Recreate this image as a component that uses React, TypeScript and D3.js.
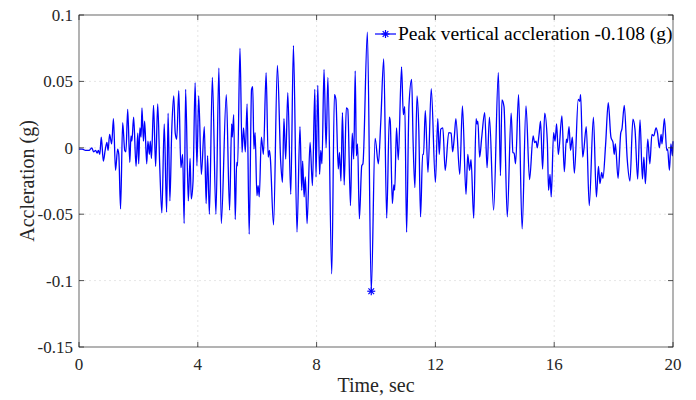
import React from "react";
import * as d3 from "d3";

const xTicks = [0, 4, 8, 12, 16, 20];
const yTicks = [-0.15, -0.1, -0.05, 0, 0.05, 0.1];
const yTickLabels = ["-0.15", "-0.1", "-0.05", "0", "0.05", "0.1"];

const timeSec = [
  0, 0.11, 0.22, 0.34, 0.43, 0.49, 0.56, 0.61, 0.65, 0.7,
  0.75, 0.82, 0.88, 0.94, 0.98, 1.03, 1.1, 1.16, 1.23, 1.3,
  1.34, 1.4, 1.47, 1.54, 1.58, 1.64, 1.71, 1.75, 1.78, 1.84,
  1.92, 1.98, 2.01, 2.05, 2.09, 2.12, 2.17, 2.21, 2.28, 2.32,
  2.37, 2.4, 2.44, 2.51, 2.58, 2.65, 2.72, 2.79, 2.87,
  2.95, 3.0, 3.06, 3.12, 3.19, 3.24, 3.29, 3.36, 3.43, 3.49,
  3.54, 3.59, 3.68, 3.74, 3.78, 3.84, 3.91, 3.97, 4.03, 4.12,
  4.22, 4.28, 4.33, 4.39, 4.49, 4.61, 4.71, 4.79, 4.96, 5.07,
  5.14, 5.16, 5.21, 5.26, 5.31, 5.34, 5.42, 5.49, 5.54, 5.6,
  5.66, 5.73,
  5.81, 5.85, 5.89, 5.93, 5.99, 6.03, 6.07, 6.14, 6.21, 6.3,
  6.37, 6.41, 6.44, 6.55, 6.68, 6.79, 6.85, 6.9, 6.96, 7.03,
  7.13, 7.22, 7.34, 7.44, 7.5, 7.53, 7.58, 7.62, 7.68, 7.78,
  7.86, 7.94, 7.98, 8.04, 8.1, 8.14, 8.18, 8.25, 8.32, 8.38,
  8.51, 8.6,
  8.65, 8.73, 8.77, 8.82, 8.87, 8.93, 9.0, 9.05, 9.14, 9.2,
  9.25, 9.3, 9.34, 9.38, 9.44, 9.52, 9.56, 9.71, 9.84, 9.97,
  10.08, 10.16, 10.26, 10.36, 10.45, 10.48, 10.55, 10.6, 10.63, 10.69,
  10.75, 10.86, 10.92, 10.97, 11.03, 11.11, 11.2, 11.25, 11.31, 11.38,
  11.44, 11.5,
  11.57, 11.6, 11.66, 11.75, 11.86, 12.0, 12.08, 12.13, 12.18, 12.25,
  12.33, 12.45, 12.53, 12.58, 12.64, 12.69, 12.82, 12.91, 13.03, 13.09,
  13.15, 13.2, 13.29, 13.37, 13.4, 13.43, 13.49, 13.56, 13.66, 13.74,
  13.82, 13.96, 14.12, 14.19, 14.24, 14.31,
  14.42, 14.55, 14.61, 14.65, 14.7, 14.8, 14.92, 15.05, 15.17, 15.29,
  15.34, 15.39, 15.43, 15.49, 15.54, 15.61, 15.68, 15.77, 15.81, 15.86,
  15.9, 15.98, 16.03, 16.08, 16.14, 16.26, 16.34, 16.41, 16.44, 16.5,
  16.55, 16.61, 16.68, 16.81, 16.86, 16.89, 16.96, 17.0, 17.08, 17.18,
  17.32, 17.42, 17.49, 17.54, 17.6, 17.64, 17.73, 17.82, 17.91, 17.98,
  18.02, 18.06, 18.15, 18.24, 18.28, 18.36, 18.46, 18.55, 18.65, 18.72,
  18.81, 18.89, 18.97, 19.02, 19.07, 19.15, 19.22, 19.29, 19.35, 19.43,
  19.48, 19.54, 19.6, 19.63, 19.71, 19.79, 19.82, 19.88, 19.93, 19.98,
  20.0,
];

const accelG = [
  -0.001, -0.001, -0.002, -0.002, 0.0, -0.003, -0.002, -0.004, -0.002, -0.005,
  0.008, -0.01, -0.002, 0.004, -0.002, 0.01, 0.003, 0.022, -0.017, -0.001,
  -0.005, -0.046, 0.019, -0.002, -0.003, 0.029, -0.011, 0.009, 0.005, 0.023,
  -0.014, 0.011, -0.012, 0.015, 0.008, 0.03, 0.005, 0.02, -0.012, 0.005,
  -0.005, 0.005, -0.008, 0.032, -0.014, 0.033, -0.015, -0.049, 0.018,
  -0.0485, 0.026, -0.04, 0.011, 0.039, 0.011, 0.0065, 0.043, -0.015, -0.005,
  -0.057, 0.044, -0.04, -0.008, -0.0385, -0.025, 0.049, -0.0135, 0.039, -0.02,
  0.016, -0.042, -0.006, -0.05, 0.053, -0.05, 0.06, -0.057, 0.04, -0.047,
  0.018, 0.008, 0.025, -0.054, -0.011, -0.0135, 0.075, -0.0035, 0.015, -0.003,
  0.033, -0.065,
  0.044, 0.046, -0.001, 0.0115, -0.036, -0.0285, -0.037, 0.008, -0.005, 0.0565,
  -0.007, -0.002, -0.007, -0.058, 0.062, -0.01, -0.026, 0.022, -0.0085, 0.0415,
  -0.035, 0.077, -0.0635, 0.016, -0.032, -0.01, -0.037, -0.022, -0.057, 0.004,
  -0.0285, 0.044, -0.022, 0.047, -0.02, -0.002, -0.012, 0.059, 0.0, 0.053,
  -0.095, 0.04,
  0.0365, -0.016, -0.0035, -0.025, 0.0265, -0.028, 0.03, 0.029, -0.0435, 0.011,
  -0.0085, 0.058, -0.006, 0.003, -0.0535, -0.0135, -0.012, 0.087, -0.108, 0.007,
  -0.012, 0.019, 0.067, -0.053, 0.023, 0.02, -0.042, -0.028, -0.032, 0.015,
  -0.009, 0.061, 0.025, 0.031, -0.0635, 0.0315, 0.0515, 0.004, -0.03, 0.039,
  0.015, -0.052,
  -0.005, -0.005, 0.028, -0.0185, 0.0445, -0.026, 0.022, -0.005, 0.014, 0.015,
  -0.017, 0.0115, 0.011, -0.003, 0.009, 0.022, -0.02, 0.0315, -0.035, -0.005,
  -0.017, -0.009, -0.053, 0.022, 0.018, 0.02, -0.007, 0.008, 0.0265, -0.015,
  0.023, -0.047, 0.0565, -0.021, 0.036, 0.031,
  -0.052, 0.026, -0.0035, -0.004, -0.012, 0.04, -0.061, 0.0315, -0.024, 0.009,
  0.004, 0.005, 0.0, 0.01, 0.02, -0.016, 0.026, 0.004, -0.032, -0.02,
  -0.037, 0.0115, 0.005, 0.018, -0.005, 0.024, -0.018, 0.0065, 0.004, 0.016,
  -0.002, 0.008, -0.019, 0.0365, 0.035, 0.04, -0.007, -0.001, 0.016, -0.0435,
  0.023, -0.037, -0.014, -0.027, -0.0185, -0.023, 0.002, 0.034, 0.008, 0.004,
  -0.005, 0.003, -0.023, 0.011, 0.014, 0.032, -0.009, -0.025, 0.0215, 0.014,
  -0.0235, 0.021, -0.0235, -0.007, -0.027, 0.0065, -0.012, 0.01, 0.009, 0.015,
  0.011, 0.0, 0.01, 0.003, 0.022, -0.002, -0.001, -0.017, 0.003, -0.006,
  0.005,
];

const peakTime = [9.84];
const peakValue = [-0.108];
const legendLabel = "Peak vertical accleration -0.108 (g)";

const W = 696;
const H = 400;
const left = 79;
const right = 673;
const top = 15;
const bottom = 347;
const FONT = "Liberation Serif";
const AX = "#262626";

function Star({ cx, cy, r }: { cx: number; cy: number; r: number }) {
  const angles = [0, 45, 90, 135];
  return (
    <g stroke="#0000ff" strokeWidth={1.2}>
      {angles.map((a) => {
        const rad = (a * Math.PI) / 180;
        const dx = Math.cos(rad) * r;
        const dy = Math.sin(rad) * r;
        return <line key={a} x1={cx - dx} y1={cy - dy} x2={cx + dx} y2={cy + dy} />;
      })}
    </g>
  );
}

export default function App() {
  const x = d3.scaleLinear().domain([0, 20]).range([left, right]);
  const y = d3.scaleLinear().domain([-0.15, 0.1]).range([bottom, top]);
  const n = Math.min(timeSec.length, accelG.length);
  const data: [number, number][] = d3.range(n).map((i) => [timeSec[i], accelG[i]]);
  const line = d3
    .line<[number, number]>()
    .x((d) => x(d[0]))
    .y((d) => y(d[1]))
    .curve(d3.curveMonotoneX);
  const tickLen = 5;
  const tf = { fontFamily: FONT };

  return (
    <svg
      width={W}
      height={H}
      style={{ position: "absolute", left: 0, top: 0, background: "#fff" }}
    >
      <rect x={0} y={0} width={W} height={H} fill="#fff" />
      <g stroke="#dedede" strokeWidth={0.8} strokeDasharray="2 3">
        {xTicks.slice(1, -1).map((t) => (
          <line key={"gx" + t} x1={x(t)} x2={x(t)} y1={top} y2={bottom} />
        ))}
        {yTicks.slice(1, -1).map((t) => (
          <line key={"gy" + t} x1={left} x2={right} y1={y(t)} y2={y(t)} />
        ))}
      </g>
      <path d={line(data) || ""} fill="none" stroke="#0000ff" strokeWidth={1.3} />
      {peakTime.map((t, i) => (
        <Star key={i} cx={x(t)} cy={y(peakValue[i])} r={4} />
      ))}
      <rect
        x={left}
        y={top}
        width={right - left}
        height={bottom - top}
        fill="none"
        stroke={AX}
        strokeWidth={0.7}
      />
      <g stroke={AX} strokeWidth={0.8}>
        {xTicks.map((t) => (
          <g key={"tx" + t}>
            <line x1={x(t)} x2={x(t)} y1={bottom} y2={bottom - tickLen} />
            <line x1={x(t)} x2={x(t)} y1={top} y2={top + tickLen} />
          </g>
        ))}
        {yTicks.map((t) => (
          <g key={"ty" + t}>
            <line x1={left} x2={left + tickLen} y1={y(t)} y2={y(t)} />
            <line x1={right} x2={right - tickLen} y1={y(t)} y2={y(t)} />
          </g>
        ))}
      </g>
      <g fontSize={17} fill="#262626" style={tf}>
        {xTicks.map((t) => (
          <text key={"lx" + t} x={x(t)} y={370} textAnchor="middle" style={tf}>
            {t}
          </text>
        ))}
        {yTicks.map((t, i) => (
          <text key={"ly" + t} x={73} y={y(t)} dy="0.35em" textAnchor="end" style={tf}>
            {yTickLabels[i]}
          </text>
        ))}
      </g>
      <text
        x={(left + right) / 2}
        y={392}
        textAnchor="middle"
        fontSize={20}
        fill="#262626"
        style={tf}
      >
        Time, sec
      </text>
      <text
        transform={`translate(27, ${(top + bottom) / 2}) rotate(-90)`}
        textAnchor="middle"
        fontSize={20}
        fill="#262626"
        dy="0.35em"
        style={tf}
      >
        Accleration (g)
      </text>
      <g>
        <line x1={375} x2={396} y1={34} y2={34} stroke="#0000ff" strokeWidth={1.2} />
        <Star cx={385.5} cy={34} r={4} />
        <text x={398} y={40} fontSize={19.5} fill="#000" style={tf}>
          {legendLabel}
        </text>
      </g>
    </svg>
  );
}
